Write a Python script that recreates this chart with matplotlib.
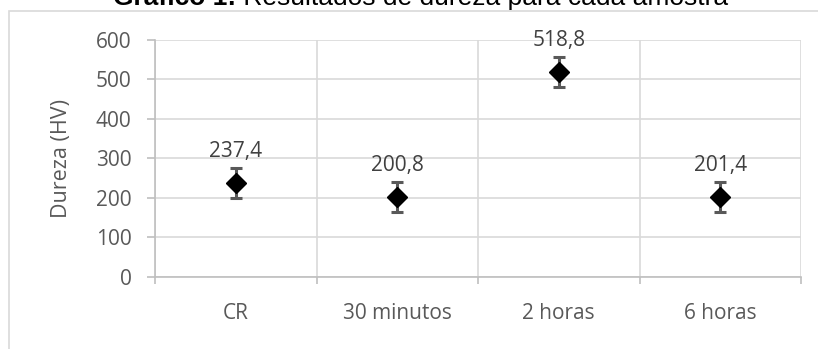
import matplotlib.pyplot as plt
from matplotlib.patches import Rectangle

amostras = ['CR', '30 minutos', '2 horas', '6 horas']
dureza = [237.4, 200.8, 518.8, 201.4]
erro = [38, 38, 38, 38]
rotulos = ['237,4', '200,8', '518,8', '201,4']

plt.rcParams['font.family'] = ['Open Sans', 'DejaVu Sans']
texto = '#595959'
grade = '#d9d9d9'
eixo = '#bfbfbf'

fig = plt.figure(figsize=(8.18, 3.49), dpi=100)

# moldura da área do gráfico
fig.patches.append(Rectangle((9 / 818, -0.1), 1.0, 1 - 11 / 349 + 0.1,
                             transform=fig.transFigure, fill=False,
                             edgecolor=grade, linewidth=1.2))

# título: parte em negrito + restante, centralizado em conjunto
tam_titulo = 19
y_tit = 1 - 5 / 349
t1 = fig.text(0, y_tit, 'Gráfico 1:', ha='left', va='baseline',
              fontsize=tam_titulo, fontweight='bold', family='Liberation Sans')
t2 = fig.text(0, y_tit, ' Resultados de dureza para cada amostra', ha='left',
              va='baseline', fontsize=tam_titulo, family='Liberation Sans')
r = fig.canvas.get_renderer()
w1 = t1.get_window_extent(r).width
w2 = t2.get_window_extent(r).width
x0 = 421 - (w1 + w2) / 2
t1.set_x(x0 / 818)
t2.set_x((x0 + w1) / 818)

ax = fig.add_axes([155 / 818, 1 - 276.7 / 349, 646 / 818, (276.7 - 40) / 349])
x = list(range(len(amostras)))

ax.errorbar(x, dureza, yerr=erro, fmt='D', color='black', markersize=10,
            ecolor=texto, elinewidth=2.2, capsize=4, capthick=2.2, zorder=3)

for xi, yi, rt in zip(x, dureza, rotulos):
    ax.annotate(rt, (xi, yi), xytext=(0, 23), textcoords='offset points',
                ha='center', va='center', fontsize=15, color='#404040')

ax.set_xlim(-0.5, len(amostras) - 0.5)
ax.set_ylim(0, 600)
ax.set_yticks(range(0, 601, 100))
ax.set_xticks(x)
ax.set_xticklabels(amostras)
ax.set_xticks([i - 0.5 for i in range(len(amostras) + 1)], minor=True)

ax.grid(axis='y', color=grade, linewidth=1.2)
ax.grid(axis='x', which='minor', color=grade, linewidth=1.2)
ax.set_axisbelow(True)

for s in ['top', 'right']:
    ax.spines[s].set_visible(False)
ax.spines['left'].set_color(eixo)
ax.spines['bottom'].set_color(eixo)
ax.spines['left'].set_linewidth(1.2)
ax.spines['bottom'].set_linewidth(1.2)

ax.tick_params(axis='y', length=6, width=1.2, color=eixo, pad=11,
               labelsize=15, labelcolor=texto)
ax.tick_params(axis='x', which='major', length=0, pad=19,
               labelsize=15, labelcolor=texto)
ax.tick_params(axis='x', which='minor', length=5, width=1.2, color=eixo)

ax.set_ylabel('Dureza (HV)', fontsize=15.5, color=texto, labelpad=17)

fig.savefig('out.png', dpi=100)
